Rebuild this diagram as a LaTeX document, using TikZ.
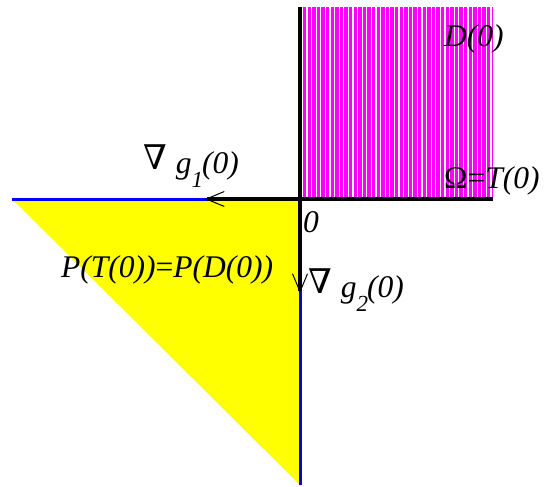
\documentclass[tikz,border=0pt]{standalone}
\usepackage{fontspec}
\setmainfont{Liberation Serif}
\newfontfamily\symfam{DejaVu Serif}
\usetikzlibrary{arrows.meta}

\definecolor{cmag}{RGB}{255,0,255}
\definecolor{cyel}{RGB}{255,255,0}
\definecolor{cblu}{RGB}{0,0,255}

% gradient label: nabla, g, lowered index, (0)
\newcommand{\gradlab}[1]{\raisebox{4pt}{\symfam\fontsize{34}{36}\selectfont ∇}\hspace{9pt}\textit{g}\raisebox{-14pt}{\fontsize{23}{23}\selectfont\textit{#1}}\kern-1pt\textit{(0)}}

\begin{document}
\begin{tikzpicture}[
  x=1pt, y=-1pt,
  lab/.style={inner sep=0pt, anchor=base west, font=\fontsize{31.5}{36}\selectfont},
  bnd/.style={draw=cblu, line width=3pt},
  edge/.style={line width=4.5pt, line cap=butt},
  arr/.style={line width=3.5pt, -{Straight Barb[length=18pt, width=15pt, line width=1pt]}},
  hatch/.style={draw=white, line width=1.2pt}
]
\useasboundingbox (0,0) rectangle (544,487);

% ---- points ----
\coordinate (o)  at (300,199);
\coordinate (w)  at (12,199);
\coordinate (s)  at (300,485);
\coordinate (n)  at (300,7);
\coordinate (e)  at (493,199);
\coordinate (g1) at (205,199);
\coordinate (g2) at (300,293);

% ---- polar cone (yellow) ----
\fill[cyel] (w) -- (o) -- (s) -- cycle;

% ---- quadrant D(0) (magenta, striped) ----
\fill[cmag] (n) rectangle (e);
\foreach \k in {0,...,41}
  \draw[hatch] ({302.3+4.6*\k},7) -- ++(0,191);

% ---- cone boundary ----
\draw[bnd] (w) -- (o) -- (s);

% ---- Omega boundary ----
\draw[edge] (n) -- (o) -- (e);

% ---- gradients ----
\draw[arr] (o) -- (g1);
\draw[arr] (o) -- (g2);

% ---- labels ----
\node[lab] (lg1)  at (143,173) {\gradlab{1}};
\node[lab] (lg2)  at (308,297) {\gradlab{2}};
\node[lab] (lo)   at (303,232) {\textit{0}};
\node[lab] (lp)   at (61,277)  {\textit{P(T(0))}=\textit{P(D(0))}};
\node[lab] (ld)   at (444,47)  {\textit{D(0)}};
\node[lab] (lom)  at (444,188) {Ω=\textit{T(0)}};
\end{tikzpicture}
\end{document}
